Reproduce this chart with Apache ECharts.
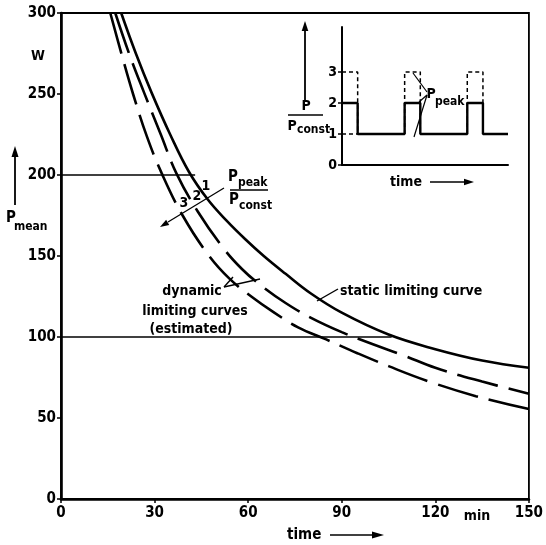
<!DOCTYPE html>
<html>
<head>
<meta charset="utf-8">
<script src="https://cdn.jsdelivr.net/npm/echarts@6/dist/echarts.min.js"></script>
<style>
html, body { margin: 0; padding: 0; background: #fff; }
#chart { width: 546px; height: 545px; }
</style>
</head>
<body>
<div id="chart"></div>
<script>
// static limiting curve (Ppeak/Pconst = 1)
var staticTime  = [19.3, 24, 29, 35, 41, 47, 53, 59, 65, 72, 80, 90, 105, 120, 135, 150];
var staticPower = [300, 275, 251, 225, 202, 185, 172, 160.5, 150, 139, 127, 115, 101.5, 92.5, 85.5, 81];
// dynamic limiting curve, Ppeak/Pconst = 2
var dyn2Time  = [17.4, 22, 26.6, 32, 37, 44, 52, 58, 64, 72, 80, 90, 100, 110, 120, 135, 150];
var dyn2Power = [300, 274, 251, 225, 201, 177, 155, 142, 132, 121, 112, 103, 95.5, 88.5, 81, 72.5, 65];
// dynamic limiting curve, Ppeak/Pconst = 3
var dyn3Time  = [15.8, 19.5, 23.1, 27.5, 32.3, 39, 47.5, 54, 61, 68, 76, 85, 95, 105, 118, 133, 150];
var dyn3Power = [300, 274, 250, 224, 201, 175, 150, 136, 125, 115.5, 106, 98.5, 90, 82, 72.5, 63.5, 55.5];
// horizontal reference lines
var refLevels = [200, 100];
var refEnds   = [43, 106];
// axis ticks
var xTicks = [0, 30, 60, 90, 120, 150];
var yTicks = [0, 50, 100, 150, 200, 250, 300];

// inset: P/Pconst over time
var pulseStart = [0, 4, 8];
var pulseEnd   = [1, 5, 9];
var baseLevel = 1, constLevel = 2, peakLevel = 3;
var insetEnd = 10.6;
var insetTicks = [0, 1, 2, 3];

var FONT = '"Liberation Sans Narrow", "DejaVu Sans Condensed", sans-serif';

function pairs(xs, ys) {
    var out = [];
    for (var i = 0; i < xs.length; i++) out.push([xs[i], ys[i]]);
    return out;
}

var signal = [];
for (var i = 0; i < pulseStart.length; i++) {
    if (pulseStart[i] > 0) signal.push([pulseStart[i], baseLevel]);
    signal.push([pulseStart[i], constLevel]);
    signal.push([pulseEnd[i], constLevel]);
    signal.push([pulseEnd[i], baseLevel]);
}
signal.push([insetEnd, baseLevel]);

var series = [];
function curve(data, dashed) {
    series.push({
        type: 'line', data: data, smooth: 0.4, symbol: 'none', clip: true,
        silent: true,
        lineStyle: { color: '#000', width: 2.6, type: dashed ? [42, 11] : 'solid' }
    });
}
curve(pairs(staticTime, staticPower), false);
curve(pairs(dyn2Time, dyn2Power), true);
curve(pairs(dyn3Time, dyn3Power), true);

for (var r = 0; r < refLevels.length; r++) {
    series.push({
        type: 'line', symbol: 'none', silent: true,
        data: [[0, refLevels[r]], [refEnds[r], refLevels[r]]],
        lineStyle: { color: '#000', width: 1.4 }
    });
}

series.push({
    type: 'line', xAxisIndex: 1, yAxisIndex: 1, symbol: 'none', silent: true,
    data: signal, lineStyle: { color: '#000', width: 2.4 }
});
for (var p = 0; p < pulseStart.length; p++) {
    var d = [];
    if (pulseStart[p] > 0) d.push([pulseStart[p], baseLevel]);
    d.push([pulseStart[p], peakLevel], [pulseEnd[p], peakLevel], [pulseEnd[p], baseLevel]);
    series.push({
        type: 'line', xAxisIndex: 1, yAxisIndex: 1, symbol: 'none', silent: true,
        data: d, lineStyle: { color: '#000', width: 1.5, type: [4, 3] }
    });
}
series.push({
    type: 'line', xAxisIndex: 1, yAxisIndex: 1, symbol: 'none', silent: true,
    data: [[0, baseLevel], [pulseEnd[0], baseLevel]],
    lineStyle: { color: '#000', width: 1.5, type: [4, 3] }
});

// annotation helpers (pixel positions)
function txt(s, x, y, size, align) {
    return {
        type: 'text', silent: true,
        style: { text: s, x: x, y: y, fill: '#000', font: 'bold ' + size + 'px ' + FONT,
                 textAlign: align || 'left', textVerticalAlign: 'middle' }
    };
}
function seg(x1, y1, x2, y2, w) {
    return { type: 'line', silent: true, shape: { x1: x1, y1: y1, x2: x2, y2: y2 },
             style: { stroke: '#000', lineWidth: w || 1.4 } };
}
function head(x1, y1, x2, y2, len, half) {
    var dx = x2 - x1, dy = y2 - y1, L = Math.sqrt(dx * dx + dy * dy);
    var ux = dx / L, uy = dy / L;
    var bx = x2 - ux * len, by = y2 - uy * len;
    return { type: 'polygon', silent: true,
             shape: { points: [[x2, y2], [bx - uy * half, by + ux * half], [bx + uy * half, by - ux * half]] },
             style: { fill: '#000' } };
}

var graphics = [
    txt('W', 38, 56, 14, 'center'),
    seg(15, 205, 15, 156, 1.8), head(15, 205, 15, 146, 11, 3.5),
    txt('P', 11, 218, 15, 'center'), txt('mean', 14, 227, 12, 'left'),
    txt('min', 477, 516, 14, 'center'),
    txt('time', 287, 535, 15, 'left'),
    seg(330, 535, 372, 535, 1.6), head(330, 535, 384, 535, 12, 3.5),

    // Ppeak / Pconst family marker
    txt('1', 206, 186, 14, 'center'), txt('2', 197, 196, 14, 'center'), txt('3', 184, 203, 14, 'center'),
    seg(224, 188, 168, 222, 1.3), head(224, 188, 160, 227, 9, 3),
    txt('P', 233, 177, 15, 'center'), txt('peak', 238, 183, 12, 'left'),
    seg(230, 190, 268, 190, 1.3),
    txt('P', 234, 200, 15, 'center'), txt('const', 239, 206, 12, 'left'),

    txt('dynamic', 192, 291, 14, 'center'),
    txt('limiting curves', 195, 311, 14, 'center'),
    txt('(estimated)', 191, 329, 14, 'center'),
    seg(224, 287, 233, 277), seg(224, 287, 260, 279),
    txt('static limiting curve', 340, 291, 14, 'left'),
    seg(317, 301, 338, 289),

    // inset labels
    seg(305, 100, 305, 31, 1.8), head(305, 100, 305, 21, 10, 3.3),
    txt('P', 306, 106, 14, 'center'),
    seg(288, 115, 323, 115, 1.3),
    txt('P', 292, 126, 14, 'center'), txt('const', 297, 130, 12, 'left'),
    txt('time', 390, 182, 14, 'left'),
    seg(430, 182, 464, 182, 1.5), head(430, 182, 474, 182, 10, 3.2),
    txt('P', 431, 94, 14, 'center'), txt('peak', 435, 102, 12, 'left'),
    seg(427, 92, 413, 73, 1.2), seg(427, 95, 414, 137, 1.2), seg(427, 95, 419, 102, 1.2)
];

var axisLabelStyle = { color: '#000', fontWeight: 'bold', fontFamily: FONT, fontSize: 15 };

var option = {
    animation: false,
    backgroundColor: '#fff',
    grid: [
        { left: 61, top: 13, width: 475, height: 486, show: true, borderColor: '#000', borderWidth: 1.8, backgroundColor: 'transparent' },
        { left: 342, top: 27, width: 166, height: 138, show: false }
    ],
    xAxis: [
        {
            type: 'value', gridIndex: 0, min: xTicks[0], max: xTicks[xTicks.length - 1], interval: 30,
            axisLine: { lineStyle: { color: '#000', width: 2.6 } },
            axisTick: { length: 4, lineStyle: { color: '#000', width: 1.5 } },
            axisLabel: Object.assign({ margin: 7 }, axisLabelStyle),
            splitLine: { show: false }
        },
        {
            type: 'value', gridIndex: 1, min: 0, max: insetEnd,
            axisLine: { lineStyle: { color: '#000', width: 2 } },
            axisTick: { show: false }, axisLabel: { show: false }, splitLine: { show: false }
        }
    ],
    yAxis: [
        {
            type: 'value', gridIndex: 0, min: yTicks[0], max: yTicks[yTicks.length - 1], interval: 50,
            axisLine: { show: true, lineStyle: { color: '#000', width: 2.6 } },
            axisTick: { show: true, length: 4, lineStyle: { color: '#000', width: 1.5 } },
            axisLabel: Object.assign({ margin: 5 }, axisLabelStyle),
            splitLine: { show: false }
        },
        {
            type: 'value', gridIndex: 1, min: 0, max: 4.45,
            axisLine: { show: true, lineStyle: { color: '#000', width: 2 } },
            axisTick: { show: true, length: 4, customValues: insetTicks, lineStyle: { color: '#000', width: 1.5 } },
            axisLabel: Object.assign({ margin: 5, customValues: insetTicks,
                formatter: function (v) { return v <= 3 ? String(v) : ''; } }, axisLabelStyle, { fontSize: 14 }),
            splitLine: { show: false }
        }
    ],
    series: series,
    graphic: graphics
};

var myChart = echarts.init(document.getElementById('chart'), null, { renderer: 'canvas' });
myChart.setOption(option);
</script>
</body>
</html>
